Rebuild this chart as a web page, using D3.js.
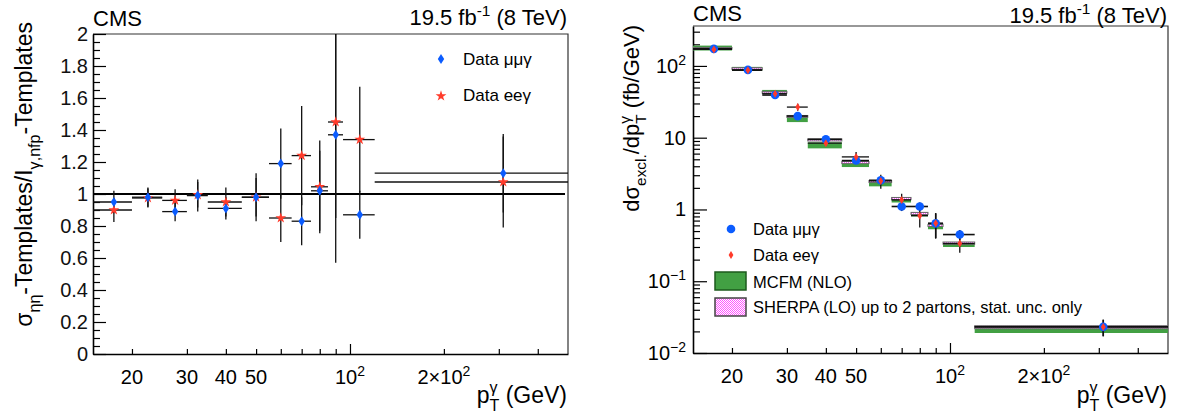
<!DOCTYPE html>
<html>
<head>
<meta charset="utf-8">
<script src="https://cdn.jsdelivr.net/npm/d3@7"></script>
<style>
  body { margin: 0; background: #fff; }
  svg { font-family: "Liberation Sans", Arial, Helvetica, sans-serif; }
  text { white-space: pre; }
</style>
</head>
<body>
<script>
// pT bins (GeV)
const binLo = [15, 20, 25, 30, 35, 45, 55, 65, 75, 85, 95, 120];
const binHi = [20, 25, 30, 35, 45, 55, 65, 75, 85, 95, 120, 500];

// left: ratio of template methods
const ratioMu    = [0.95, 0.98, 0.89, 0.99, 0.91, 0.98, 1.19, 0.83, 1.02, 1.37, 0.87, 1.13];
const ratioMuErr = [0.07, 0.06, 0.06, 0.10, 0.07, 0.15, 0.22, 0.15, 0.25, 0.80, 0.15, 0.245];
const ratioEe    = [0.90, 0.975, 0.96, 0.995, 0.95, 0.98, 0.85, 1.24, 1.045, 1.45, 1.34, 1.075];
const ratioEeErr = [0.075, 0.06, 0.07, 0.08, 0.09, 0.12, 0.15, 0.31, 0.29, 0.60, 0.33, 0.285];

// right: cross section (fb/GeV)
const xsMu    = [173, 88, 39.3, 20, 9.5, 4.8, 2.55, 1.1, 1.1, 0.64, 0.447, 0.0231];
const xsMuErr = [8, 3, 1.5, 1.2, 0.5, 0.4, 0.3, 0.15, 0.15, 0.24, 0.07, 0.006];
const xsEe    = [170, 87, 41, 26.7, 8.4, 5.4, 2.5, 1.36, 0.82, 0.64, 0.335, 0.0231];
const xsEeErr = [8, 3, 1.8, 2.9, 0.7, 0.9, 0.55, 0.3, 0.26, 0.25, 0.085, 0.006];
const mcfmLo  = [164, 85, 41.9, 16.5, 7.1, 3.9, 2.1, 1.25, 0.80, 0.53, 0.30, 0.019];
const mcfmHi  = [192, 97, 46.3, 20.6, 8.6, 4.4, 2.4, 1.47, 0.91, 0.62, 0.345, 0.0218];
const sherpaXs  = [176, 92, 43, 19.8, 9.3, 4.5, 2.45, 1.42, 0.88, 0.6, 0.34, 0.0229];
const sherpaErr = [5, 2.5, 1.2, 0.6, 0.3, 0.15, 0.08, 0.05, 0.03, 0.02, 0.012, 0.0011];

// ticks
const xTicks = [20, 30, 40, 50, 60, 70, 80, 90, 200, 300, 400];
const xLabelVals = [20, 30, 40, 50, 100, 200];
const yMajorL = [0, 0.2, 0.4, 0.6, 0.8, 1, 1.2, 1.4, 1.6, 1.8, 2];
const yMajorR = [0.01, 0.1, 1, 10, 100];

const blue = "#0b5cff", red = "#ff3b2b", green = "#42a043";
const NB = "\u00a0";

const svg = d3.select("body").append("svg").attr("width", 1181).attr("height", 418);

// pattern for sherpa
const defs = svg.append("defs");
const pat = defs.append("pattern").attr("id", "sherpaPat").attr("width", 2).attr("height", 2)
  .attr("patternUnits", "userSpaceOnUse");
pat.append("rect").attr("width", 2).attr("height", 2).attr("fill", "#ffffff");
pat.append("rect").attr("width", 1).attr("height", 1).attr("fill", "#ff55ff");
pat.append("rect").attr("x", 1).attr("y", 1).attr("width", 1).attr("height", 1).attr("fill", "#ff55ff");

// text with sub/superscripts, measured piece by piece
function richText(parent, parts, size, anchor) {
  const g = parent.append("g");
  let x = 0, prevStart = 0;
  parts.forEach(p => {
    const fs = p.s ? size * 0.7 : size;
    const dy = p.s === "sup" ? -size * 0.42 : p.s === "sub" ? size * 0.33 : 0;
    const x0 = p.stack ? prevStart : x;
    const t = g.append("text").attr("x", x0).attr("y", dy).attr("font-size", fs).text(p.t);
    const w = t.node().getComputedTextLength();
    if (p.stack) x = Math.max(x, x0 + w);
    else { prevStart = x0; x = x0 + w; }
  });
  const shift = anchor === "end" ? -x : anchor === "middle" ? -x / 2 : 0;
  g.selectAll("text").attr("x", function () { return +this.getAttribute("x") + shift; });
  return g;
}

function xLabelParts(v) {
  if (v === 100) return [{t: "10"}, {t: "2", s: "sup"}];
  if (v === 200) return [{t: "2\u00d710"}, {t: "2", s: "sup"}];
  return [{t: String(v)}];
}

function drawXAxis(xs, y0) {
  const g = svg.append("g").attr("transform", "translate(0," + y0 + ")");
  g.call(d3.axisBottom(xs).tickValues(xTicks).tickSize(-5).tickSizeOuter(0).tickFormat(""));
  g.select(".domain").attr("stroke-width", 1.6);
  const g2 = svg.append("g").attr("transform", "translate(0," + y0 + ")");
  g2.call(d3.axisBottom(xs).tickValues([100]).tickSize(-10).tickFormat(""));
  g2.select(".domain").remove();
  svg.selectAll(".tick line").attr("stroke-width", 1.2);
  xLabelVals.forEach(v => {
    richText(svg.append("g").attr("transform", "translate(" + xs(v) + "," + (y0 + 30) + ")"),
      xLabelParts(v), 20, "middle");
  });
}

function frame(x0, x1, y0, y1) {
  svg.append("path").attr("d", "M" + x0 + "," + y0 + "H" + x1 + "V" + y1)
    .attr("fill", "none").attr("stroke", "#333").attr("stroke-width", 1.2);
}

const ptLabel = [{t: "p"}, {t: "\u03b3", s: "sup"}, {t: "T", s: "sub", stack: true}, {t: NB + "(GeV)"}];
const lumi = [{t: "19.5 fb"}, {t: "-1", s: "sup"}, {t: NB + "(8 TeV)"}];

// ---------------- LEFT PANEL ----------------
const xL = d3.scaleLog().domain([15, 500]).range([93, 568]);
const yL = d3.scaleLinear().domain([0, 2]).range([354, 34]);

frame(93, 568, 34, 354);

const yAxL = svg.append("g").attr("transform", "translate(93,0)")
  .call(d3.axisLeft(yL).tickValues(yMajorL).tickSize(-13).tickSizeOuter(0).tickPadding(5)
    .tickFormat(d3.format("~g")));
yAxL.selectAll("text").attr("font-size", 20).attr("font-family", null).attr("fill", "#111");
yAxL.select(".domain").attr("stroke-width", 1.6);
const yMinorL = d3.range(0, 2.001, 0.05).filter(v => Math.abs(v * 5 - Math.round(v * 5)) > 1e-6);
const yMinAxL = svg.append("g").attr("transform", "translate(93,0)")
  .call(d3.axisLeft(yL).tickValues(yMinorL).tickSize(-7).tickFormat(""));
yMinAxL.select(".domain").remove();

drawXAxis(xL, 354);

// reference line at 1
svg.append("line").attr("x1", xL(15)).attr("x2", 565).attr("y1", yL(1)).attr("y2", yL(1))
  .attr("stroke", "#000").attr("stroke-width", 2.2);

defs.append("clipPath").attr("id", "clipL").append("rect")
  .attr("x", 93).attr("y", 34).attr("width", 475).attr("height", 320);

const gL = svg.append("g").attr("clip-path", "url(#clipL)");
const idx = d3.range(binLo.length);
const mid = i => (binLo[i] + binHi[i]) / 2;

function errBars(g, xs, ys, vals, errs, w) {
  g.selectAll(null).data(idx).join("line")
    .attr("x1", i => xs(binLo[i])).attr("x2", i => xs(binHi[i]))
    .attr("y1", i => ys(vals[i])).attr("y2", i => ys(vals[i]))
    .attr("stroke", "#111").attr("stroke-width", w);
  g.selectAll(null).data(idx).join("line")
    .attr("x1", i => xs(mid(i))).attr("x2", i => xs(mid(i)))
    .attr("y1", i => ys(vals[i] + errs[i])).attr("y2", i => ys(Math.max(vals[i] - errs[i], 1e-4)))
    .attr("stroke", "#111").attr("stroke-width", w);
}

errBars(gL, xL, yL, ratioEe, ratioEeErr, 1.3);
errBars(gL, xL, yL, ratioMu, ratioMuErr, 1.3);

const star = d3.symbol(d3.symbolStar).size(36);
const diamondL = "M0,-5L3.2,0L0,5L-3.2,0Z";

gL.selectAll(null).data(idx).join("path")
  .attr("d", star).attr("fill", red)
  .attr("transform", i => "translate(" + xL(mid(i)) + "," + yL(ratioEe[i]) + ")");
gL.selectAll(null).data(idx).join("path")
  .attr("d", diamondL).attr("fill", blue)
  .attr("transform", i => "translate(" + xL(mid(i)) + "," + yL(ratioMu[i]) + ")");

// left legend
svg.append("path").attr("d", diamondL).attr("fill", blue).attr("transform", "translate(441,59)");
svg.append("text").attr("x", 463).attr("y", 65).attr("font-size", 17).text("Data \u03bc\u03bc\u03b3");
svg.append("path").attr("d", star).attr("fill", red).attr("transform", "translate(441,96)");
svg.append("text").attr("x", 463).attr("y", 101).attr("font-size", 17).text("Data ee\u03b3");

// titles / labels left
svg.append("text").attr("x", 93).attr("y", 26).attr("font-size", 22).text("CMS");
richText(svg.append("g").attr("transform", "translate(567,25)"), lumi, 22, "end");
richText(svg.append("g").attr("transform", "translate(567,403)"), ptLabel, 23, "end");
richText(svg.append("g").attr("transform", "translate(32,22) rotate(-90)"),
  [{t: "\u03c3"}, {t: "\u03b7\u03b7", s: "sub"}, {t: "-Templates/I"}, {t: "\u03b3,nfp", s: "sub"}, {t: "-Templates"}],
  23, "end");

// ---------------- RIGHT PANEL ----------------
const xR = d3.scaleLog().domain([15, 500]).range([693, 1168]);
const yR = d3.scaleLog().domain([0.01, 360]).range([353, 26]);

frame(693, 1168, 26, 353);

const yAxR = svg.append("g").attr("transform", "translate(693,0)")
  .call(d3.axisLeft(yR).tickValues(yMajorR).tickSize(-14).tickSizeOuter(0).tickFormat(""));
yAxR.select(".domain").attr("stroke-width", 1.6);
const yMinorR = [];
yMajorR.forEach(d => d3.range(2, 10).forEach(k => { if (k * d <= 360) yMinorR.push(k * d); }));
const yMinAxR = svg.append("g").attr("transform", "translate(693,0)")
  .call(d3.axisLeft(yR).tickValues(yMinorR).tickSize(-7).tickFormat(""));
yMinAxR.select(".domain").remove();

const yLabR = {0.01: [{t: "10"}, {t: "\u22122", s: "sup"}], 0.1: [{t: "10"}, {t: "\u22121", s: "sup"}],
  1: [{t: "1"}], 10: [{t: "10"}], 100: [{t: "10"}, {t: "2", s: "sup"}]};
yMajorR.forEach(v => {
  richText(svg.append("g").attr("transform", "translate(686," + (yR(v) + 7) + ")"), yLabR[v], 20, "end");
});

drawXAxis(xR, 353);

defs.append("clipPath").attr("id", "clipR").append("rect")
  .attr("x", 693).attr("y", 26).attr("width", 475).attr("height", 327);
const gR = svg.append("g").attr("clip-path", "url(#clipR)");

gR.selectAll(null).data(idx).join("rect")
  .attr("x", i => xR(binLo[i])).attr("width", i => xR(binHi[i]) - xR(binLo[i]))
  .attr("y", i => yR(mcfmHi[i])).attr("height", i => yR(mcfmLo[i]) - yR(mcfmHi[i]))
  .attr("fill", green);
gR.selectAll(null).data(idx).join("rect")
  .attr("x", i => xR(binLo[i])).attr("width", i => xR(binHi[i]) - xR(binLo[i]))
  .attr("y", i => yR(sherpaXs[i] + sherpaErr[i]))
  .attr("height", i => yR(sherpaXs[i] - sherpaErr[i]) - yR(sherpaXs[i] + sherpaErr[i]))
  .attr("fill", "url(#sherpaPat)").attr("stroke", "#666").attr("stroke-width", 1);

errBars(gR, xR, yR, xsMu, xsMuErr, 1.6);
errBars(gR, xR, yR, xsEe, xsEeErr, 1.3);

const diamondR = "M0,-4L2.4,0L0,4L-2.4,0Z";
gR.selectAll(null).data(idx).join("circle")
  .attr("cx", i => xR(mid(i))).attr("cy", i => yR(xsMu[i])).attr("r", 4.3).attr("fill", blue);
gR.selectAll(null).data(idx).join("path")
  .attr("d", diamondR).attr("fill", red)
  .attr("transform", i => "translate(" + xR(mid(i)) + "," + yR(xsEe[i]) + ")");

// right legend
svg.append("circle").attr("cx", 731).attr("cy", 229).attr("r", 4.3).attr("fill", blue);
svg.append("text").attr("x", 753).attr("y", 235).attr("font-size", 16.5).text("Data \u03bc\u03bc\u03b3");
svg.append("path").attr("d", diamondR).attr("fill", red).attr("transform", "translate(731,255)");
svg.append("text").attr("x", 753).attr("y", 261).attr("font-size", 16.5).text("Data ee\u03b3");
svg.append("rect").attr("x", 715).attr("y", 272).attr("width", 31).attr("height", 18)
  .attr("fill", green).attr("stroke", "#1d5a1d").attr("stroke-width", 1.5);
svg.append("text").attr("x", 753).attr("y", 288).attr("font-size", 16.5).text("MCFM (NLO)");
svg.append("rect").attr("x", 715).attr("y", 298).attr("width", 31).attr("height", 18)
  .attr("fill", "url(#sherpaPat)").attr("stroke", "#444").attr("stroke-width", 1.5);
svg.append("text").attr("x", 753).attr("y", 313).attr("font-size", 16.5)
  .text("SHERPA (LO) up to 2 partons, stat. unc. only");

// titles / labels right
svg.append("text").attr("x", 693).attr("y", 21).attr("font-size", 22).text("CMS");
richText(svg.append("g").attr("transform", "translate(1167,23)"), lumi, 22, "end");
richText(svg.append("g").attr("transform", "translate(1167,403)"), ptLabel, 23, "end");
richText(svg.append("g").attr("transform", "translate(639,25) rotate(-90)"),
  [{t: "d\u03c3"}, {t: "excl.", s: "sub"}, {t: "/dp"}, {t: "\u03b3", s: "sup"}, {t: "T", s: "sub", stack: true},
   {t: NB + "(fb/GeV)"}], 22, "end");
</script>
</body>
</html>
